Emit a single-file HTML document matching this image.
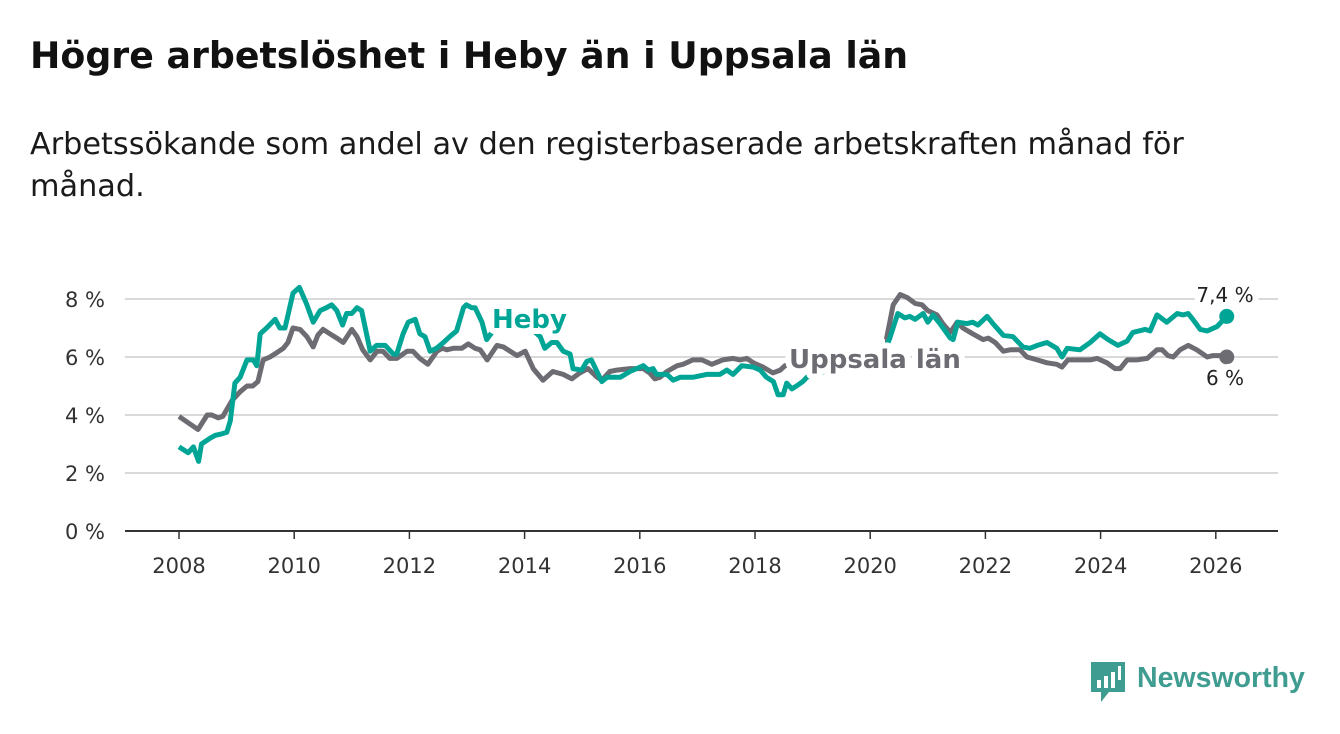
<!DOCTYPE html>
<html><head><meta charset="utf-8"><style>
body{margin:0;background:#fff;width:1340px;height:734px;overflow:hidden;font-family:"DejaVu Sans","Liberation Sans",sans-serif;}
h1{position:absolute;left:30px;top:34px;margin:0;font-size:36.3px;font-weight:bold;color:#111;white-space:nowrap}
p{position:absolute;left:30px;top:124px;margin:0;font-size:30.3px;line-height:42px;color:#1a1a1a;width:1290px}
</style></head><body>
<h1>Högre arbetslöshet i Heby än i Uppsala län</h1>
<p>Arbetssökande som andel av den registerbaserade arbetskraften månad för<br>månad.</p>
<svg id="chart" width="1340" height="734" style="position:absolute;left:0;top:0"></svg>
<div style="position:absolute;left:1089px;top:660px;">
<svg width="38" height="44"><path d="M2 2h34v30H20l-8 10v-10H2z" fill="#3f9c90"/><rect x="8" y="20" width="4" height="8" fill="#fff"/><rect x="15" y="16" width="4" height="12" fill="#fff"/><rect x="22" y="12" width="4" height="16" fill="#fff"/><rect x="29" y="6" width="3" height="14" fill="#fff"/></svg>
<span style="position:absolute;left:48px;top:2px;font-family:'Liberation Sans',sans-serif;font-size:28.5px;color:#3f9c90;font-weight:bold;white-space:nowrap">Newsworthy</span>
</div>
<script>
const yTicks=[0,2,4,6,8];
const yTickLabels=["0 %","2 %","4 %","6 %","8 %"];
const xTicks=[2008,2010,2012,2014,2016,2018,2020,2022,2024,2026];
const hebyDates=[2008.00,2008.16,2008.25,2008.34,2008.39,2008.54,2008.63,2008.74,2008.83,2008.89,2008.97,2009.06,2009.18,2009.29,2009.35,2009.41,2009.52,2009.67,2009.75,2009.84,2009.98,2010.09,2010.22,2010.33,2010.45,2010.56,2010.65,2010.74,2010.84,2010.91,2011.00,2011.09,2011.17,2011.32,2011.43,2011.58,2011.72,2011.78,2011.89,2011.98,2012.10,2012.18,2012.27,2012.36,2012.47,2012.59,2012.70,2012.82,2012.94,2012.99,2013.08,2013.14,2013.26,2013.34,2013.6,2013.9,2014.1,2014.27,2014.35,2014.47,2014.56,2014.67,2014.79,2014.84,2014.99,2015.08,2015.16,2015.34,2015.43,2015.66,2015.83,2016.06,2016.15,2016.23,2016.29,2016.47,2016.58,2016.70,2016.92,2017.16,2017.39,2017.51,2017.62,2017.77,2017.97,2018.09,2018.20,2018.32,2018.40,2018.49,2018.55,2018.64,2018.72,2018.83,2018.90,2019.2,2019.6,2020.0,2020.25,2020.34,2020.48,2020.60,2020.69,2020.78,2020.92,2021.00,2021.09,2021.21,2021.39,2021.44,2021.52,2021.68,2021.78,2021.87,2022.03,2022.13,2022.31,2022.48,2022.65,2022.77,2022.90,2023.07,2023.24,2023.33,2023.42,2023.64,2023.82,2023.99,2024.13,2024.30,2024.46,2024.56,2024.77,2024.86,2024.98,2025.15,2025.33,2025.43,2025.52,2025.60,2025.73,2025.85,2026.02,2026.19];
const hebyValues=[2.9,2.7,2.9,2.4,3.0,3.2,3.3,3.35,3.4,3.8,5.1,5.3,5.9,5.9,5.7,6.8,7.0,7.3,7.0,7.0,8.2,8.4,7.8,7.2,7.6,7.7,7.8,7.6,7.1,7.5,7.5,7.7,7.6,6.2,6.4,6.4,6.1,6.1,6.8,7.2,7.3,6.8,6.7,6.2,6.3,6.5,6.7,6.9,7.7,7.8,7.7,7.7,7.2,6.6,7.3,7.2,7.0,6.7,6.3,6.5,6.5,6.2,6.1,5.6,5.55,5.85,5.9,5.15,5.3,5.3,5.5,5.7,5.55,5.6,5.4,5.4,5.2,5.3,5.3,5.4,5.4,5.55,5.4,5.7,5.65,5.55,5.3,5.15,4.7,4.7,5.1,4.9,5.0,5.15,5.3,5.5,5.6,5.7,6.2,6.65,7.5,7.35,7.4,7.3,7.5,7.2,7.45,7.15,6.65,6.6,7.2,7.15,7.2,7.1,7.4,7.15,6.75,6.7,6.35,6.3,6.4,6.5,6.3,6.0,6.3,6.25,6.5,6.8,6.6,6.4,6.55,6.85,6.95,6.9,7.45,7.2,7.5,7.45,7.5,7.3,6.95,6.9,7.05,7.4];
const uppDates=[2008.00,2008.33,2008.49,2008.57,2008.68,2008.76,2008.92,2009.06,2009.18,2009.28,2009.37,2009.46,2009.58,2009.70,2009.81,2009.89,2009.98,2010.10,2010.22,2010.33,2010.41,2010.50,2010.62,2010.74,2010.85,2011.00,2011.09,2011.19,2011.32,2011.44,2011.54,2011.66,2011.78,2011.96,2012.06,2012.18,2012.32,2012.48,2012.57,2012.65,2012.76,2012.91,2013.02,2013.14,2013.23,2013.35,2013.52,2013.63,2013.87,2014.01,2014.15,2014.32,2014.49,2014.67,2014.82,2014.96,2015.10,2015.26,2015.34,2015.48,2015.60,2015.83,2016.06,2016.17,2016.26,2016.35,2016.47,2016.65,2016.75,2016.92,2017.08,2017.25,2017.44,2017.62,2017.74,2017.86,2017.97,2018.14,2018.31,2018.44,2018.52,2018.9,2019.4,2019.9,2020.25,2020.29,2020.40,2020.52,2020.64,2020.78,2020.90,2021.00,2021.16,2021.26,2021.39,2021.51,2021.61,2021.78,2021.96,2022.05,2022.17,2022.31,2022.43,2022.60,2022.72,2022.90,2023.07,2023.24,2023.33,2023.43,2023.64,2023.82,2023.94,2024.11,2024.25,2024.34,2024.46,2024.63,2024.81,2024.98,2025.07,2025.17,2025.26,2025.38,2025.52,2025.67,2025.85,2025.95,2026.11,2026.19];
const uppValues=[3.95,3.5,4.0,4.0,3.9,3.95,4.5,4.8,5.0,5.0,5.15,5.9,6.0,6.15,6.3,6.5,7.0,6.95,6.7,6.35,6.75,6.95,6.8,6.65,6.5,6.95,6.7,6.25,5.9,6.2,6.2,5.95,5.95,6.2,6.2,5.95,5.75,6.2,6.3,6.25,6.3,6.3,6.45,6.3,6.25,5.9,6.4,6.35,6.05,6.2,5.6,5.2,5.5,5.4,5.25,5.45,5.6,5.3,5.2,5.5,5.55,5.6,5.6,5.45,5.25,5.3,5.5,5.7,5.75,5.9,5.9,5.75,5.9,5.95,5.9,5.95,5.8,5.65,5.45,5.55,5.7,5.9,6.0,6.1,6.3,6.7,7.8,8.15,8.05,7.85,7.8,7.6,7.45,7.15,6.85,7.2,7.0,6.8,6.6,6.65,6.5,6.2,6.25,6.25,6.0,5.9,5.8,5.75,5.65,5.9,5.9,5.9,5.95,5.8,5.6,5.6,5.9,5.9,5.95,6.25,6.25,6.05,6.0,6.25,6.4,6.25,6.0,6.05,6.05,6.0];
const NS="http://www.w3.org/2000/svg";
const svg=document.getElementById('chart');
const X=yr=>179+(yr-2008)*57.6;
const Y=v=>531-v*29;
function mk(tag,attrs,parent){const e=document.createElementNS(NS,tag);for(const k in attrs)e.setAttribute(k,attrs[k]);(parent||svg).appendChild(e);return e;}
yTicks.forEach((t,i)=>{
  if(t>0){const g=mk('line',{x1:125,x2:1278,y1:Y(t),y2:Y(t),stroke:'#d9d9d9','stroke-width':2});
  
  }
  const l=mk('text',{x:105,y:Y(t)+8,'text-anchor':'end','font-size':21,fill:'#333'});
  l.textContent=yTickLabels[i];
  
  
});
xTicks.forEach(t=>{
  const tk=mk('line',{x1:X(t),x2:X(t),y1:531,y2:539,stroke:'#333','stroke-width':1.5});
  
  
  const l=mk('text',{x:X(t),y:573,'text-anchor':'middle','font-size':21,fill:'#333'});
  l.textContent=t;
  
  
});
const ax=mk('line',{x1:125,x2:1278,y1:531,y2:531,stroke:'#333','stroke-width':2});


function series(dates,vals,color,name){
  const d=dates.map((t,i)=>(i?'L':'M')+X(t).toFixed(1)+' '+Y(vals[i]).toFixed(1)).join('');
  const p=mk('path',{d:d,fill:'none',stroke:color,'stroke-width':5,'stroke-linejoin':'round'});
  
  
  const n=dates.length-1;
  const c=mk('circle',{cx:X(dates[n]),cy:Y(vals[n]),r:7.5,fill:color});
  
  
}
series(uppDates,uppValues,'#6e6c73','uppsala');
series(hebyDates,hebyValues,'#00a596','heby');
const mask=mk('rect',{x:810,y:339,width:75,height:34,fill:'#fff'});


function label(txt,x,y,color,size,weight,name,anchor){
  const t=mk('text',{x:x,y:y,fill:color,'font-size':size,'font-weight':weight,stroke:'#fff','stroke-width':12,'paint-order':'stroke','stroke-linejoin':'round','text-anchor':anchor||'start'});
  t.textContent=txt;
  
  
}
label('Heby',492,328,'#00a596',26,'bold','heby-series-label');
label('Uppsala län',789,368,'#6e6c73',26,'bold','uppsala-series-label');
label('7,4 %',1225,302,'#222',20,'normal','heby-end-value','middle');
label('6 %',1225,385,'#222',20,'normal','uppsala-end-value','middle');
</script>
</body></html>
